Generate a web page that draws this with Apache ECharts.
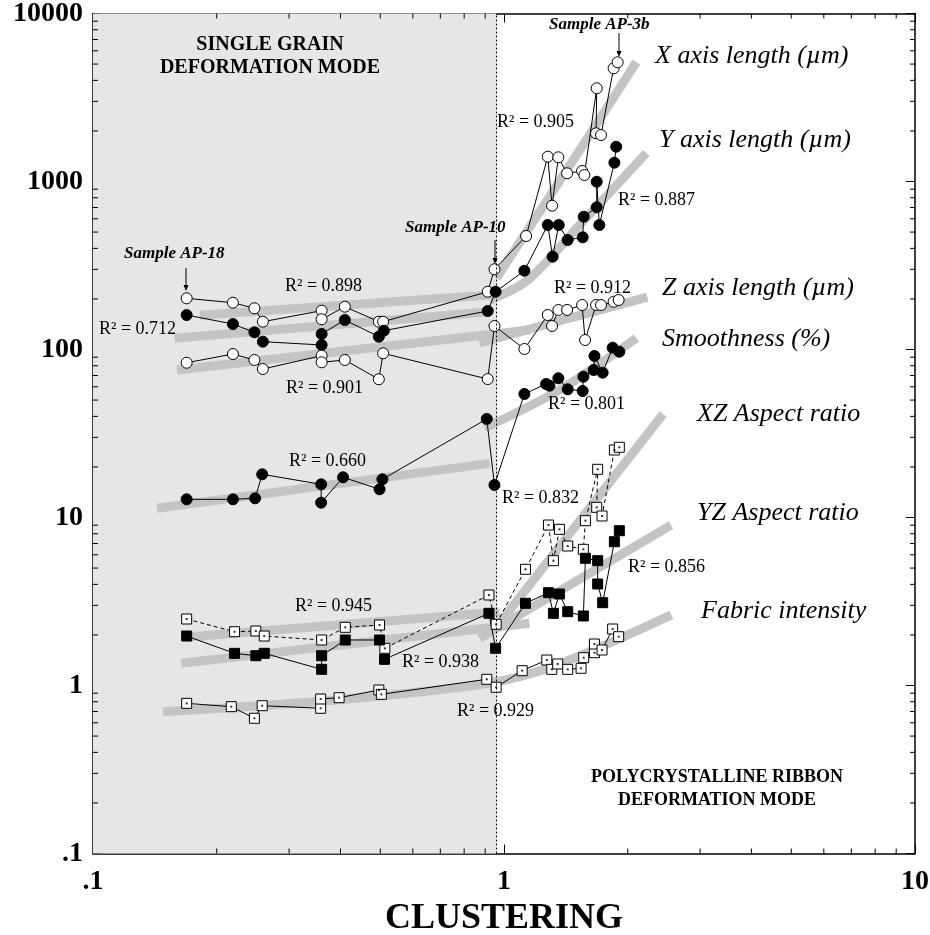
<!DOCTYPE html>
<html><head><meta charset="utf-8">
<script src="https://cdn.jsdelivr.net/npm/echarts@6/dist/echarts.min.js"></script>
<style>html,body{margin:0;padding:0;background:#fff}#c{width:930px;height:935px}</style>
</head><body><div id="c"></div>
<script>
// ---------- data ----------
// X axis length (µm) – open circles
const xLenC = [0.169,0.219,0.247,0.259,0.360,0.360,0.410,0.496,0.508,0.913,0.948,1.132,1.278,1.309,1.356,1.424,1.549,1.569,1.681,1.675,1.722,1.848,1.890];
const xLenV = [201.7,189.9,175.9,146.4,170.2,151.3,179.8,146.4,146.4,220.8,300.2,473.8,1405,717.8,1393,1119,1155,1093,3587,1936,1891,4719,5123];
// Y axis length (µm) – filled circles
const yLenC = [0.169,0.219,0.247,0.259,0.360,0.360,0.410,0.496,0.510,0.913,0.954,1.121,1.278,1.313,1.359,1.429,1.554,1.563,1.681,1.681,1.706,1.856,1.875];
const yLenV = [160.4,141.8,126.6,111.3,106.4,123.7,149.8,119.2,129.4,169.5,220.8,294.5,551,356.8,551,448.5,465.4,617.4,702,997,551,1294,1611];
// Z axis length (µm) – open circles
const zLenC = [0.169,0.219,0.247,0.259,0.360,0.360,0.410,0.496,0.508,0.913,0.948,1.121,1.278,1.309,1.356,1.424,1.549,1.575,1.675,1.722,1.848,1.901];
const zLenV = [83.4,94.0,86.6,76.5,91.9,83.9,86.6,66.5,94.9,66.7,138,100.7,160.4,138,171.9,171.9,184,113.9,184,184,192.5,197.1];
// Smoothness (%) – filled circles
const smoC = [0.169,0.219,0.248,0.258,0.359,0.359,0.406,0.498,0.506,0.908,0.948,1.121,1.266,1.290,1.356,1.429,1.554,1.560,1.653,1.660,1.738,1.838,1.908];
const smoV = [12.83,12.83,13.01,18.08,15.76,12.25,17.35,14.72,16.88,38.59,15.61,54.35,62.33,60.9,67.4,57.96,56.6,68.9,75.5,91.5,72.8,102.5,97.0];
// XZ aspect ratio – open squares, dashed
const xzC = [0.169,0.221,0.249,0.261,0.360,0.411,0.498,0.513,0.919,0.957,1.128,1.283,1.319,1.364,1.429,1.560,1.578,1.690,1.681,1.732,1.856,1.908];
const xzV = [2.488,2.090,2.110,1.970,1.866,2.220,2.291,1.665,3.457,2.314,4.917,9.02,5.533,8.506,6.766,6.466,9.572,19.36,11.5,10.21,25.22,26.17];
// YZ aspect ratio – filled squares
const yzC = [0.169,0.221,0.249,0.261,0.360,0.360,0.411,0.498,0.512,0.919,0.954,1.128,1.283,1.319,1.364,1.429,1.560,1.578,1.690,1.690,1.738,1.856,1.908];
const yzV = [1.970,1.554,1.504,1.554,1.248,1.504,1.866,1.866,1.432,2.690,1.665,3.085,3.567,2.690,3.504,2.750,2.593,5.717,5.533,4.020,3.111,7.178,8.343];
// Fabric intensity – open squares
const fabC = [0.169,0.217,0.247,0.258,0.358,0.358,0.397,0.496,0.503,0.908,0.957,1.107,1.271,1.307,1.351,1.429,1.540,1.563,1.660,1.660,1.732,1.838,1.901];
const fabV = [0.783,0.748,0.638,0.758,0.732,0.831,0.846,0.940,0.886,1.089,0.976,1.225,1.418,1.248,1.343,1.248,1.266,1.464,1.567,1.766,1.627,2.169,1.952];

// grey regression bands (points read along each band)
const fitXLeftC = [0.182,0.922],   fitXLeftV = [160,211];
const fitXRightC = [0.959,1.644,2.099], fitXRightV = [266.5,2025,5144];
const fitYLeftC = [0.158,0.922],   fitYLeftV = [116.6,167.9];
const fitYRightC = [0.922,1.143,1.554,2.22], fitYRightV = [197,259.3,576.6,1478];
const fitZLeftC = [0.160,1.153],   fitZLeftV = [75.5,130.6];
const fitZRightC = [0.872,1.39,2.232], fitZRightV = [109.3,149.8,205];
const fitSmoLeftC = [0.143,0.922], fitSmoLeftV = [11.34,21.0];
const fitSmoRightC = [0.897,1.364,2.099], fitSmoRightV = [34.1,57.4,117];
const fitXZLeftC = [0.170,0.975],  fitXZLeftV = [1.944,2.738];
const fitXZRightC = [0.959,2.44],  fitXZRightV = [2.23,41.3];
const fitYZLeftC = [0.164,1.153],  fitYZLeftV = [1.356,2.346];
const fitYZRightC = [0.872,2.548], fitYZRightV = [1.91,9.02];
const fitFabC = [0.148,0.391,0.922,1.364,2.553], fitFabV = [0.698,0.820,1.035,1.343,2.63];

// regime boundary and axis ticks
const boundary = 0.956;
const xMajor = [0.1,1,10];
const yMajor = [0.1,1,10,100,1000,10000];
const minorSteps = [2,3,4,5,6,7,8,9];

// ---------- build ----------
const SERIF = '"Liberation Serif","Times New Roman",serif';
const zip = (xs, ys) => xs.map((x, i) => [x, ys[i]]);
const fmt = v => (v < 1 ? '.' + String(v).split('.')[1] : String(v));

function dataLine(xs, ys, symbol, fill, size, dashed) {
  return {
    type: 'line', data: zip(xs, ys), z: 3, symbol: symbol, symbolSize: size,
    itemStyle: { color: fill, borderColor: '#000', borderWidth: 1 },
    lineStyle: { color: '#000', width: 1, type: dashed ? [4, 3] : 'solid' },
    animation: false, silent: true
  };
}
function band(xs, ys) {
  return {
    type: 'line', data: zip(xs, ys), z: 1, symbol: 'none', smooth: 0.3,
    lineStyle: { color: '#c4c4c4', width: 9, cap: 'butt' }, silent: true, animation: false
  };
}
function dots(xs, ys) {
  return { type: 'scatter', data: zip(xs, ys), z: 4, symbol: 'rect', symbolSize: 2,
    itemStyle: { color: '#000' }, silent: true, animation: false };
}

const tickData = [];
const xMinor = [], yMinor = [];
for (let i = 0; i < xMajor.length - 1; i++) minorSteps.forEach(s => xMinor.push(+(xMajor[i] * s).toPrecision(3)));
for (let i = 0; i < yMajor.length - 1; i++) minorSteps.forEach(s => yMinor.push(+(yMajor[i] * s).toPrecision(3)));
xMinor.forEach(v => { tickData.push([v, 0.1, 0, 5]); tickData.push([v, 10000, 1, 5]); });
yMinor.forEach(v => { tickData.push([0.1, v, 2, 5]); tickData.push([10, v, 3, 5]); });

const chart = echarts.init(document.getElementById('c'), null, { renderer: 'canvas' });

function txt(text, x, y, font, align) {
  return { type: 'text', x: x, y: y, z: 20, silent: true,
    style: { text: text, font: font, fill: '#000', align: align || 'left', verticalAlign: 'middle' } };
}
function arrow(x, y1, y2) {
  return [
    { type: 'line', z: 20, silent: true, shape: { x1: x, y1: y1, x2: x, y2: y2 - 4 }, style: { stroke: '#000', lineWidth: 1 } },
    { type: 'polygon', z: 20, silent: true, shape: { points: [[x - 2.5, y2 - 6], [x + 2.5, y2 - 6], [x, y2]] }, style: { fill: '#000' } }
  ];
}
const R = '18px ' + SERIF;
const IT = 'italic 26px ' + SERIF;
const BI = 'italic bold 17px ' + SERIF;
const BD = 'bold 20px ' + SERIF;
const BD2 = 'bold 18px ' + SERIF;

const axisCommon = {
  type: 'log', logBase: 10,
  axisLine: { show: true, lineStyle: { color: '#000', width: 1.5 } },
  axisTick: { show: true, inside: true, length: 9, lineStyle: { color: '#000', width: 1 } },
  splitLine: { show: false }, minorTick: { show: false }, minorSplitLine: { show: false }
};

chart.setOption({
  animation: false,
  backgroundColor: '#fff',
  grid: { left: 93, right: 15, top: 13.5, bottom: 81.5, containLabel: false, outerBoundsMode: 'none' },
  xAxis: [
    Object.assign({}, axisCommon, {
      min: 0.1, max: 10, position: 'bottom',
      axisLabel: { formatter: fmt, fontFamily: SERIF, fontWeight: 'bold', fontSize: 28, color: '#000', margin: 14 },
      name: 'CLUSTERING', nameLocation: 'middle', nameGap: 44,
      nameTextStyle: { fontFamily: SERIF, fontWeight: 'bold', fontSize: 36, color: '#000' }
    }),
    Object.assign({}, axisCommon, { min: 0.1, max: 10, position: 'top', axisLabel: { show: false } })
  ],
  yAxis: [
    Object.assign({}, axisCommon, {
      min: 0.1, max: 10000, position: 'left',
      axisLabel: { formatter: fmt, fontFamily: SERIF, fontWeight: 'bold', fontSize: 28, color: '#000', margin: 10 }
    }),
    Object.assign({}, axisCommon, { min: 0.1, max: 10000, position: 'right', axisLabel: { show: false } })
  ],
  series: [
    { type: 'line', data: [[0.2, 1]], z: 0, symbol: 'none', lineStyle: { opacity: 0 }, silent: true,
      markArea: { silent: true, itemStyle: { color: '#e6e6e6' }, data: [[{ xAxis: 0.1 }, { xAxis: boundary }]] },
      markLine: { silent: true, symbol: 'none', label: { show: false },
        lineStyle: { color: '#000', type: [2, 2], width: 1 }, data: [{ xAxis: boundary }] } },
    band(fitXLeftC, fitXLeftV), band(fitXRightC, fitXRightV),
    band(fitYLeftC, fitYLeftV), band(fitYRightC, fitYRightV),
    band(fitZLeftC, fitZLeftV), band(fitZRightC, fitZRightV),
    band(fitSmoLeftC, fitSmoLeftV), band(fitSmoRightC, fitSmoRightV),
    band(fitXZLeftC, fitXZLeftV), band(fitXZRightC, fitXZRightV),
    band(fitYZLeftC, fitYZLeftV), band(fitYZRightC, fitYZRightV),
    band(fitFabC, fitFabV),
    dataLine(xLenC, xLenV, 'circle', '#fff', 11, false),
    dataLine(yLenC, yLenV, 'circle', '#000', 11, false),
    dataLine(zLenC, zLenV, 'circle', '#fff', 11, false),
    dataLine(smoC, smoV, 'circle', '#000', 11, false),
    dataLine(xzC, xzV, 'rect', '#fff', 10, true),
    dataLine(yzC, yzV, 'rect', '#000', 10, false),
    dataLine(fabC, fabV, 'rect', '#fff', 10, false),
    dots(xzC, xzV), dots(fabC, fabV),
    { type: 'custom', data: tickData, z: 5, silent: true, clip: false,
      encode: { x: 0, y: 1 },
      renderItem: function (params, api) {
        const p = api.coord([api.value(0), api.value(1)]);
        const side = api.value(2), len = api.value(3);
        const d = [[0, -len], [0, len], [len, 0], [-len, 0]][side];
        return { type: 'line', shape: { x1: p[0], y1: p[1], x2: p[0] + d[0], y2: p[1] + d[1] },
          style: { stroke: '#000', lineWidth: 1 } };
      } }
  ],
  graphic: [].concat(
    [
      txt('SINGLE GRAIN', 270, 45, BD, 'center'),
      txt('DEFORMATION MODE', 270, 68, BD, 'center'),
      txt('POLYCRYSTALLINE RIBBON', 717, 777, BD2, 'center'),
      txt('DEFORMATION MODE', 717, 800, BD2, 'center'),
      txt('X axis length (µm)', 655, 56, IT),
      txt('Y axis length (µm)', 659, 140, IT),
      txt('Z axis length (µm)', 662, 288, IT),
      txt('Smoothness (%)', 662, 339, IT),
      txt('XZ Aspect ratio', 697, 414, IT),
      txt('YZ Aspect ratio', 697, 513, IT),
      txt('Fabric intensity', 701, 611, IT),
      txt('R² = 0.905', 497, 122, R),
      txt('R² = 0.887', 618, 200, R),
      txt('R² = 0.898', 285, 286, R),
      txt('R² = 0.712', 99, 329, R),
      txt('R² = 0.912', 554, 288, R),
      txt('R² = 0.901', 286, 388, R),
      txt('R² = 0.660', 289, 461, R),
      txt('R² = 0.801', 548, 404, R),
      txt('R² = 0.832', 502, 498, R),
      txt('R² = 0.945', 295, 606, R),
      txt('R² = 0.938', 402, 662, R),
      txt('R² = 0.856', 628, 567, R),
      txt('R² = 0.929', 457, 711, R),
      txt('Sample AP-18', 124, 254, BI),
      txt('Sample AP-10', 405, 228, BI),
      txt('Sample AP-3b', 549, 25, BI)
    ],
    arrow(186, 268, 291),
    arrow(495, 240, 264),
    arrow(619, 33, 57)
  )
});
</script></body></html>
